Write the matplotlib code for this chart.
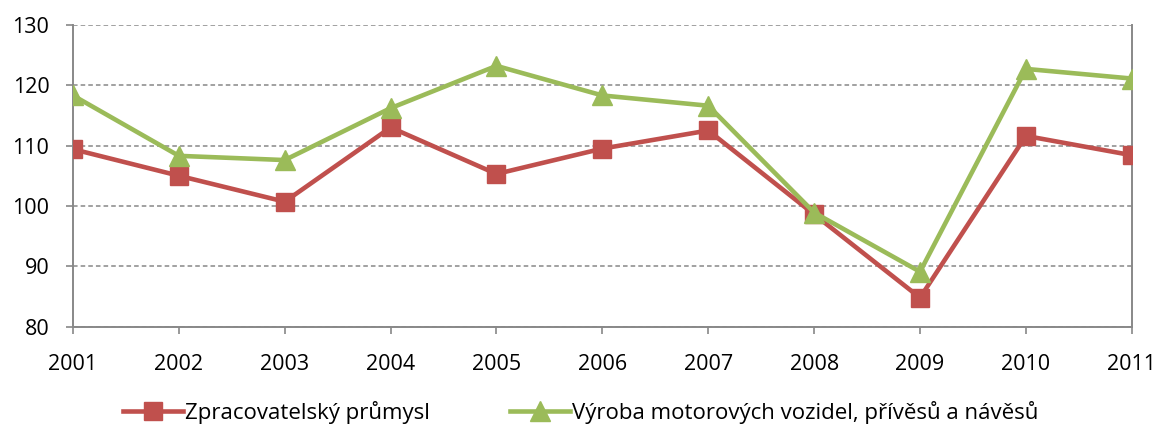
import matplotlib
matplotlib.use("Agg")
import matplotlib.pyplot as plt

years = ["2001", "2002", "2003", "2004", "2005", "2006", "2007", "2008", "2009", "2010", "2011"]
zpracovatelsky = [109.4, 105.0, 100.7, 113.0, 105.3, 109.5, 112.5, 98.6, 84.8, 111.6, 108.4]
vyroba_vozidel = [118.3, 108.3, 107.6, 116.2, 123.2, 118.3, 116.6, 98.9, 89.1, 122.7, 121.1]
labels = ["Zpracovatelský průmysl", "Výroba motorových vozidel, přívěsů a návěsů"]
yticks = [80, 90, 100, 110, 120, 130]

plt.rcParams['font.family'] = ['Open Sans', 'DejaVu Sans']

fig = plt.figure(figsize=(11.62, 4.28), dpi=100)
ax = fig.add_axes([0.0628, 0.2367, 0.9112, 0.7053])

x = list(range(len(years)))
ax.plot(x, zpracovatelsky, color="#C0504D", lw=3.3, marker="s", markersize=12.5,
        label=labels[0], zorder=3)
ax.plot(x, vyroba_vozidel, color="#9BBB59", lw=3.3, marker="^", markersize=14,
        label=labels[1], zorder=4)

ax.set_xlim(0, len(years) - 1)
ax.set_ylim(80, 130)
ax.set_yticks(yticks)
ax.set_xticks(x)
ax.set_xticklabels(years)
ax.tick_params(axis="both", labelsize=15.5, color="#888888", length=5, width=1.2, direction="out")
ax.tick_params(axis="x", pad=15)
ax.tick_params(axis="y", pad=12)

ax.yaxis.grid(True, linestyle=(0, (3, 2)), color="#888888", linewidth=1.1)
ax.set_axisbelow(True)
for s in ["left", "bottom", "right"]:
    ax.spines[s].set_color("#888888")
    ax.spines[s].set_linewidth(1.4)
ax.spines["top"].set_visible(False)

fig.legend(loc="center", bbox_to_anchor=(0.4996, 0.036), ncol=2, frameon=False,
           fontsize=16, handlelength=2.7, columnspacing=3.6, handletextpad=0.1,
           borderpad=0.2)

fig.savefig("out.png", dpi=100)
